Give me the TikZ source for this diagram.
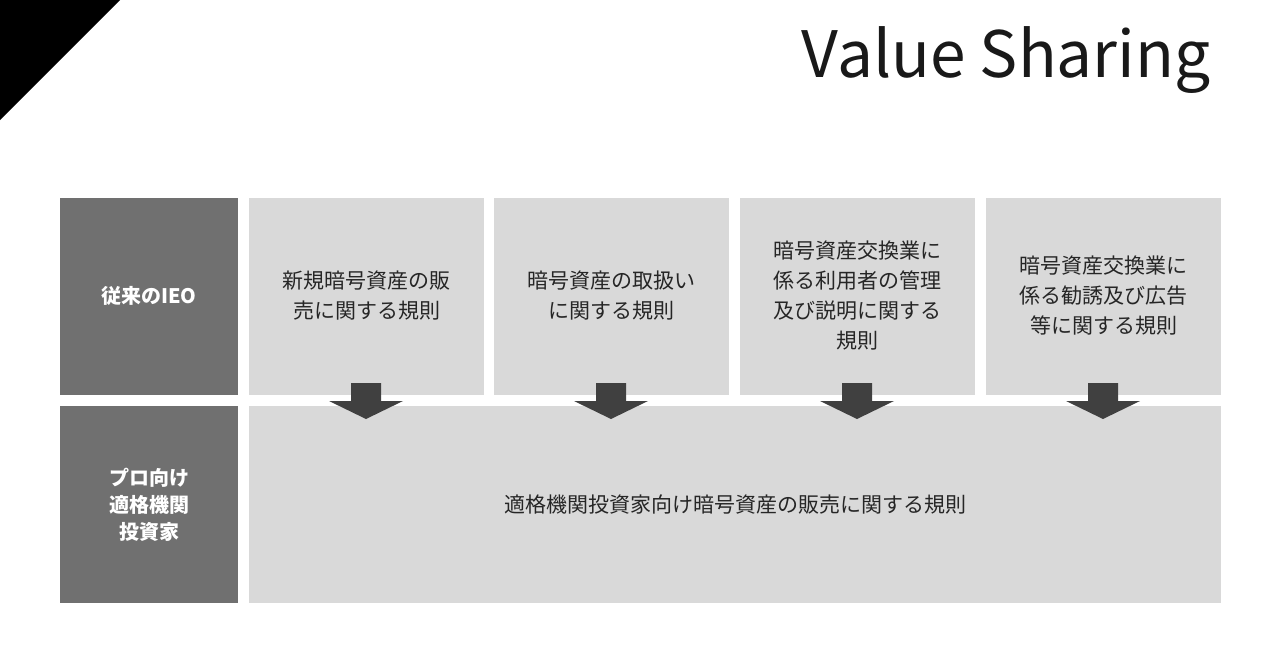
\documentclass[tikz,border=0pt]{standalone}
\usepackage{fontspec}
\setmainfont{Noto Sans CJK JP}
\begin{document}
\begin{tikzpicture}[x=1pt,y=-1pt,
  dark/.style={fill=black!56,draw=none,text=white,font=\fontsize{20}{27}\selectfont\bfseries,align=center},
  light/.style={fill=black!15,draw=none,text=black!85,font=\fontsize{21}{30}\selectfont,align=center},
  darr/.style={fill=black!75,draw=none}]
\useasboundingbox (0,0) rectangle (1280,670);
\fill[white] (0,0) rectangle (1280,670);
\fill[black] (0,0) -- (120,0) -- (0,120) -- cycle;
\node[anchor=east,font=\fontsize{64}{70}\selectfont,text=black!90] (title) at (1214,60) {Value Sharing};
\path[dark] (60,198) rectangle (238,395);
\node[dark] (l1) at (149,296) {従来のIEO};
\path[dark] (60,406) rectangle (238,603);
\node[dark] (l2) at (149,505) {プロ向け\\適格機関\\投資家};
\foreach \x/\t [count=\i] in {249/{新規暗号資産の販\\売に関する規則},494/{暗号資産の取扱い\\に関する規則},740/{暗号資産交換業に\\係る利用者の管理\\及び説明に関する\\規則},986/{暗号資産交換業に\\係る勧誘及び広告\\等に関する規則}}{
  \path[light] (\x,198) rectangle ++(235,197);
  \node[light] (t\i) at (\x+117.5,296) {\t};
}
\path[light] (249,406) rectangle (1221,603);
\node[light] (b) at (735,505) {適格機関投資家向け暗号資産の販売に関する規則};
\foreach \c in {366,611,857,1103}{
  \fill[darr] (\c-15,383) -- (\c+15,383) -- (\c+15,401) -- (\c+37,401) -- (\c,419) -- (\c-37,401) -- (\c-15,401) -- cycle;
}
\end{tikzpicture}
\end{document}
